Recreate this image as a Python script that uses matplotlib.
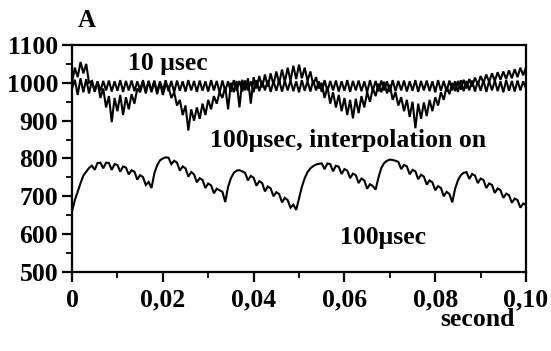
import numpy as np
import matplotlib
matplotlib.use("Agg")
import matplotlib.pyplot as plt
from matplotlib.ticker import MultipleLocator, FixedLocator

plt.rcParams['font.family'] = ['Liberation Serif', 'DejaVu Serif']

sig_10us = [
    985, 1008, 968, 1012, 975, 1010, 972, 1006, 976, 1004,
    978, 1005, 980, 1006, 977, 1004, 979, 1007, 976, 1005,
    980, 1006, 978, 1004, 981, 1007, 977, 1005, 979, 1006,
    976, 1004, 980, 1007, 978, 1005, 975, 1006, 979, 1004,
    977, 1007, 980, 1005, 976, 1006, 979, 1004, 977, 1007,
    980, 1005, 974, 1006, 978, 1004, 976, 1007, 979, 1005,
    977, 1006, 980, 1004, 975, 1007, 978, 1005, 980, 1006,
    976, 1004, 979, 1007, 977, 1005, 980, 1006, 978, 1004,
    975, 1007, 979, 1005, 977, 1006, 980, 1004, 976, 1007,
    978, 1005, 980, 1006, 977, 1004, 979, 1007, 976, 1005,
    980, 1006, 978, 1004, 975, 1007, 979, 1005, 977, 1006,
    980, 1004, 976, 1007, 978, 1005, 980, 1006, 977, 1004,
    979, 1007, 976, 1005, 980, 1006, 978, 1004, 975, 1007,
    979, 1005, 977, 1006, 980, 1004, 976, 1007, 978, 1005,
    980, 1006, 977, 1004, 979, 1007, 976, 1005, 980, 1006,
    978, 1004, 975, 1007, 979, 1005, 977, 1006, 980, 1004,
    985,
]

sig_interp = [
    1000, 1040, 1015, 1055, 1025, 1050, 1000, 1005, 978, 1003,
    960, 985, 935, 965, 896, 960, 925, 968, 915, 962,
    930, 970, 945, 985, 975, 1003, 972, 1005, 975, 1003,
    970, 1000, 968, 995, 990, 960, 975, 940, 955, 915,
    940, 874, 930, 900, 935, 905, 945, 915, 955, 930,
    965, 945, 975, 960, 990, 930, 1000, 975, 1005, 935,
    1008, 980, 1012, 945, 1015, 985, 1018, 988, 1022, 990,
    1025, 995, 1030, 998, 1035, 1002, 1040, 1005, 1045, 1010,
    1048, 1012, 1040, 1005, 1030, 995, 1015, 985, 1000, 960,
    990, 945, 975, 935, 968, 925, 960, 915, 955, 906,
    958, 920, 965, 935, 975, 950, 985, 965, 998, 975,
    1003, 972, 995, 955, 975, 940, 962, 925, 955, 910,
    950, 880, 945, 905, 948, 912, 955, 925, 962, 940,
    975, 955, 990, 970, 1000, 978, 1005, 982, 1008, 985,
    1010, 990, 1014, 995, 1018, 1000, 1022, 1002, 1025, 1005,
    1028, 1008, 1030, 1010, 1033, 1012, 1036, 1015, 1040, 1020,
    1042,
]

sig_100us = [
    660, 690, 712, 735, 755, 765, 775, 781, 770, 788,
    789, 774, 789, 788, 770, 785, 783, 765, 779, 776,
    758, 769, 765, 744, 756, 751, 730, 738, 722, 760,
    782, 795, 800, 803, 802, 785, 794, 789, 768, 779,
    774, 752, 764, 758, 737, 748, 743, 722, 734, 729,
    708, 720, 716, 712, 685, 725, 748, 762, 768, 769,
    766, 762, 742, 754, 749, 728, 740, 735, 713, 726,
    721, 700, 711, 706, 684, 696, 690, 670, 678, 664,
    695, 725, 748, 764, 774, 780, 784, 786, 787, 772,
    787, 785, 766, 781, 778, 759, 772, 768, 748, 760,
    756, 735, 747, 742, 720, 732, 727, 718, 750, 775,
    788, 794, 797, 796, 794, 791, 772, 783, 779, 758,
    770, 766, 745, 757, 752, 731, 742, 737, 716, 727,
    722, 700, 712, 706, 684, 720, 742, 756, 762, 764,
    746, 759, 755, 735, 747, 743, 722, 734, 730, 709,
    721, 716, 696, 707, 703, 683, 694, 690, 670, 681,
    677,
]

x_ticks = [0, 0.02, 0.04, 0.06, 0.08, 0.10]
x_labels = ['0', '0,02', '0,04', '0,06', '0,08', '0,10']
y_ticks = [500, 600, 700, 800, 900, 1000, 1100]

fig = plt.figure(figsize=(5.51, 3.51), dpi=100)
ax = fig.add_axes([0.1307, 0.2251, 0.824, 0.6467])

for sig in (sig_10us, sig_interp, sig_100us):
    t = np.linspace(0, 0.1, len(sig))
    ax.plot(t, sig, color='black', lw=1.5, solid_joinstyle='miter')

ax.set_xlim(0, 0.1)
ax.set_ylim(500, 1100)

ax.xaxis.set_major_locator(FixedLocator(x_ticks))
ax.set_xticklabels(x_labels)
ax.xaxis.set_minor_locator(MultipleLocator(0.01))
ax.yaxis.set_major_locator(FixedLocator(y_ticks))
ax.yaxis.set_minor_locator(MultipleLocator(50))

ax.tick_params(axis='both', which='major', direction='out', length=7, width=1.6,
               labelsize=18.5, pad=3)
ax.tick_params(axis='x', which='major', pad=5)
ax.tick_params(axis='both', which='minor', direction='out', length=4.5, width=1.3)
for lab in ax.get_xticklabels() + ax.get_yticklabels():
    lab.set_fontweight('bold')
for sp in ax.spines.values():
    sp.set_linewidth(1.6)

txt = dict(fontsize=18.5, fontweight='bold', color='black')
ax.text(0.0123, 1033, '10 μsec', ha='left', va='baseline', **txt)
ax.text(0.0304, 830, '100μsec, interpolation on', ha='left', va='baseline', **txt)
ax.text(0.059, 574, '100μsec', ha='left', va='baseline', **txt)
ax.text(0.81, -0.24, 'second', transform=ax.transAxes, ha='left', va='baseline', **txt)
ax.text(0.013, 1.079, 'A', transform=ax.transAxes, ha='left', va='baseline',
        fontsize=18, fontweight='bold')

fig.savefig('out.png', dpi=100)
